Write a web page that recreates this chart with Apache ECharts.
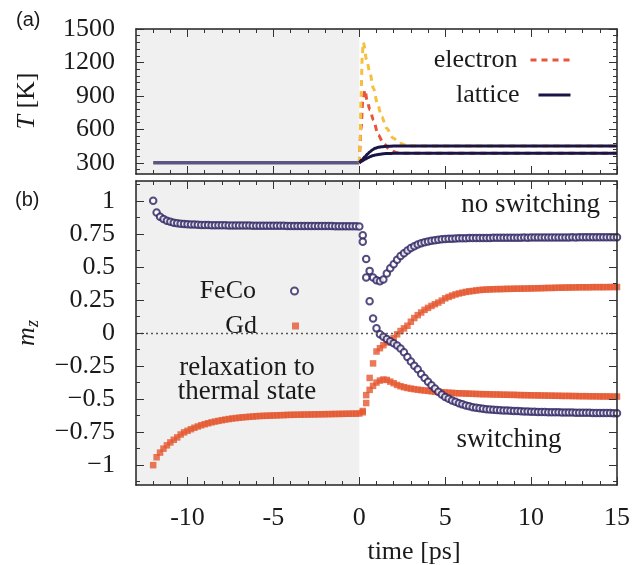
<!DOCTYPE html>
<html><head><meta charset="utf-8">
<script src="https://cdn.jsdelivr.net/npm/echarts@6/dist/echarts.min.js"></script>
<style>html,body{margin:0;padding:0;background:#fff}#c{width:643px;height:565px}</style>
</head><body><div id="c"></div>
<script>
// ---------- tick values ----------
const majorX = [-10, -5, 0, 5, 10, 15];
const minorX = [-12,-11,-9,-8,-7,-6,-4,-3,-2,-1,1,2,3,4,6,7,8,9,11,12,13,14];
const majorT = [300, 600, 900, 1200, 1500];
const minorT = [240,360,420,480,540,660,720,780,840,960,1020,1080,1140,1260,1320,1380,1440];
const majorM = [-1, -0.75, -0.5, -0.25, 0, 0.25, 0.5, 0.75, 1];
const minorM = [-1.125,-0.875,-0.625,-0.375,-0.125,0.125,0.375,0.625,0.875,1.125];

// ---------- panel (a): temperatures ----------
const preTimeT = [-12, 0];
const preTemp  = [300, 300];
const elecRedTime = [0, 0.1, 0.2, 0.33, 0.45, 0.62, 0.82, 1.1, 1.4, 1.79, 2.17, 2.6, 15];
const elecRedTemp = [300, 600, 850, 953, 860, 774, 684, 550, 475, 415, 391, 386, 385];
const elecYelTime = [0, 0.05, 0.1, 0.17, 0.23, 0.43, 0.62, 0.82, 1.05, 1.3, 1.59, 1.98, 2.36, 2.75, 3.2, 15];
const elecYelTemp = [300, 500, 900, 1250, 1380, 1222, 1103, 969, 834, 714, 610, 520, 475, 457, 451, 450];
const latUpTime = [0, 0.15, 0.33, 0.5, 0.62, 0.8, 0.91, 1.1, 1.3, 1.6, 2, 15];
const latUpTemp = [300, 325, 355, 382, 400, 420, 430, 439, 445, 449, 450, 450];
const latLoTime = [0, 0.15, 0.33, 0.5, 0.62, 0.8, 1.0, 1.2, 1.4, 1.7, 2, 15];
const latLoTemp = [300, 315, 332, 346, 355, 365, 373, 378, 382, 384, 385, 385];

// ---------- panel (b): magnetisation, sampled every 0.2 ps ----------
const preStart = -12, postStart = 0.2, step = 0.2;
const fecoPre = [1.000,0.912,0.880,0.862,0.850,0.841,0.835,0.830,0.827,0.824,0.822,
  0.821,0.820,0.819,0.818,0.818,0.817,0.816,0.816,0.815,0.815,
  0.815,0.814,0.814,0.814,0.813,0.813,0.813,0.813,0.812,0.812,
  0.812,0.812,0.812,0.811,0.811,0.811,0.811,0.811,0.810,0.810,
  0.810,0.810,0.810,0.810,0.810,0.809,0.809,0.809,0.809,0.809,
  0.809,0.809,0.808,0.808,0.808,0.808,0.807,0.807,0.807,0.806];
const gdPre = [-1.000,-0.940,-0.905,-0.875,-0.850,-0.828,-0.808,-0.790,-0.768,-0.752,-0.740,
  -0.728,-0.717,-0.707,-0.698,-0.690,-0.683,-0.676,-0.670,-0.665,-0.660,
  -0.655,-0.651,-0.647,-0.644,-0.641,-0.638,-0.636,-0.634,-0.632,-0.630,
  -0.628,-0.627,-0.626,-0.625,-0.624,-0.623,-0.622,-0.621,-0.620,-0.619,
  -0.619,-0.618,-0.618,-0.617,-0.617,-0.616,-0.616,-0.615,-0.615,-0.614,
  -0.614,-0.613,-0.613,-0.612,-0.612,-0.611,-0.611,-0.610,-0.610,-0.609];
const fecoNoSwitch = [0.74,0.56,0.47,0.42,0.40,0.392,0.405,0.45,0.49,0.52,
  0.555,0.583,0.603,0.625,0.643,0.657,0.669,0.679,0.686,0.693,
  0.698,0.702,0.706,0.709,0.711,0.713,0.714,0.715,0.716,0.717,
  0.717,0.718,0.718,0.718,0.719,0.719,0.719,0.719,0.720,0.720,
  0.720,0.720,0.721,0.720,0.721,0.721,0.721,0.722,0.721,0.722,
  0.722,0.722,0.722,0.723,0.722,0.723,0.723,0.723,0.723,0.723,
  0.723,0.724,0.723,0.724,0.724,0.724,0.724,0.724,0.725,0.724,
  0.725,0.724,0.725,0.725,0.725];
const fecoSwitch = [0.69,0.42,0.24,0.11,0.035,-0.01,-0.028,-0.045,-0.062,-0.078,
  -0.095,-0.118,-0.146,-0.182,-0.215,-0.247,-0.275,-0.31,-0.34,-0.368,
  -0.395,-0.42,-0.445,-0.466,-0.484,-0.498,-0.51,-0.521,-0.531,-0.54,
  -0.548,-0.555,-0.561,-0.566,-0.570,-0.573,-0.576,-0.578,-0.580,-0.582,
  -0.584,-0.586,-0.587,-0.589,-0.590,-0.591,-0.592,-0.593,-0.594,-0.595,
  -0.596,-0.597,-0.597,-0.598,-0.599,-0.599,-0.600,-0.600,-0.601,-0.601,
  -0.602,-0.602,-0.603,-0.603,-0.604,-0.604,-0.604,-0.605,-0.605,-0.605,
  -0.606,-0.606,-0.606,-0.607,-0.607];
const gdSwitch = [-0.59,-0.47,-0.34,-0.23,-0.14,-0.115,-0.092,-0.072,-0.055,-0.038,
  -0.01,0.015,0.035,0.055,0.085,0.113,0.135,0.155,0.175,0.19,
  0.205,0.218,0.23,0.245,0.262,0.273,0.283,0.292,0.299,0.305,
  0.311,0.315,0.318,0.322,0.325,0.327,0.329,0.330,0.331,0.332,
  0.332,0.333,0.334,0.334,0.335,0.335,0.336,0.336,0.337,0.337,
  0.338,0.339,0.339,0.340,0.341,0.341,0.342,0.343,0.343,0.344,
  0.344,0.345,0.345,0.346,0.346,0.346,0.346,0.347,0.347,0.347,
  0.347,0.347,0.348,0.348,0.348];
const gdNoSwitch = [-0.60,-0.53,-0.43,-0.40,-0.375,-0.36,-0.352,-0.355,-0.368,-0.38,
  -0.393,-0.403,-0.41,-0.416,-0.421,-0.425,-0.429,-0.432,-0.435,-0.438,
  -0.441,-0.444,-0.446,-0.448,-0.450,-0.452,-0.453,-0.455,-0.456,-0.457,
  -0.458,-0.459,-0.460,-0.461,-0.462,-0.463,-0.463,-0.464,-0.465,-0.465,
  -0.466,-0.467,-0.467,-0.468,-0.468,-0.469,-0.470,-0.470,-0.471,-0.471,
  -0.472,-0.472,-0.473,-0.473,-0.474,-0.474,-0.475,-0.475,-0.476,-0.476,
  -0.476,-0.477,-0.477,-0.478,-0.478,-0.478,-0.479,-0.479,-0.479,-0.480,
  -0.480,-0.480,-0.481,-0.481,-0.481];

// ---------- build ----------
const pairs = (ts, vs) => vs.map((v, i) => [ts[i], v]);
const grid = (start, vs) => vs.map((v, i) => [+(start + step * i).toFixed(2), v]);

const SERIF = 'Liberation Serif';
const INK = '#1a1a1a';
const NAVY = '#1b1446';
const ORANGE = '#e5572f';

function xAx(g, pos, vals, len, lab, line) {
  return {
    type: 'value', gridIndex: g, position: pos, min: -13, max: 15, z: 5,
    axisLine: { show: !!line, onZero: false, lineStyle: { color: '#222', width: 1.5 } },
    axisTick: { show: true, inside: true, length: len, customValues: vals, lineStyle: { color: '#333', width: 1 } },
    axisLabel: lab ? { show: true, customValues: majorX, margin: 20, color: INK, fontFamily: SERIF, fontSize: 26,
      formatter: v => String(v) } : { show: false },
    splitLine: { show: false }
  };
}
function yAx(g, pos, min, max, vals, len, labVals, fmt, line) {
  return {
    type: 'value', gridIndex: g, position: pos, min: min, max: max, z: 5,
    axisLine: { show: !!line, onZero: false, lineStyle: { color: '#222', width: 1.5 } },
    axisTick: { show: true, inside: true, length: len, customValues: vals, lineStyle: { color: '#333', width: 1 } },
    axisLabel: labVals ? { show: true, customValues: labVals, margin: 21, color: INK, fontFamily: SERIF, fontSize: 26,
      formatter: fmt } : { show: false },
    splitLine: { show: false }
  };
}
const fmtM = v => { let s = Math.abs(v) < 1e-9 ? '0' : String(+v.toFixed(2)); return s.replace('-', '\u2212'); };
const legText = (pad) => ({ fontFamily: SERIF, fontSize: 26, color: INK, lineHeight: 30, padding: pad });

const chart = echarts.init(document.getElementById('c'), null, { renderer: 'canvas' });
const option = {
  backgroundColor: '#fff',
  animation: false,
  grid: [
    { left: 136, right: 26, top: 29, height: 145, show: false },
    { left: 136, right: 26, top: 181, height: 304, show: false }
  ],
  xAxis: [
    xAx(0, 'bottom', majorX, 8, false, true),
    xAx(0, 'bottom', minorX, 4, false, false),
    xAx(0, 'top', majorX, 8, false, true),
    xAx(0, 'top', minorX, 4, false, false),
    xAx(1, 'bottom', majorX, 8, true, true),
    xAx(1, 'bottom', minorX, 4, false, false),
    xAx(1, 'top', majorX, 8, false, true),
    xAx(1, 'top', minorX, 4, false, false)
  ],
  yAxis: [
    yAx(0, 'left', 200, 1500, majorT, 8, majorT, v => String(v), true),
    yAx(0, 'left', 200, 1500, minorT, 4, null, null, false),
    yAx(0, 'right', 200, 1500, majorT, 8, null, null, true),
    yAx(0, 'right', 200, 1500, minorT, 4, null, null, false),
    yAx(1, 'left', -1.15, 1.15, majorM, 8, majorM, fmtM, true),
    yAx(1, 'left', -1.15, 1.15, minorM, 4, null, null, false),
    yAx(1, 'right', -1.15, 1.15, majorM, 8, null, null, true),
    yAx(1, 'right', -1.15, 1.15, minorM, 4, null, null, false)
  ],
  legend: [
    { data: ['electron'], right: 67, top: 40, align: 'right', itemWidth: 39, itemHeight: 14,
      itemStyle: { opacity: 0 }, lineStyle: { width: 3 }, textStyle: legText([0, 8, 0, 0]), selectedMode: false },
    { data: ['lattice'], right: 66, top: 75, align: 'right', itemWidth: 32, itemHeight: 14,
      itemStyle: { opacity: 0 }, lineStyle: { width: 3 }, textStyle: legText([0, 14, 0, 0]), selectedMode: false },
    { data: ['FeCo'], right: 339, top: 271, align: 'right', itemWidth: 7, itemHeight: 7,
      textStyle: legText([0, 30, 0, 0]), selectedMode: false },
    { data: ['Gd'], right: 339, top: 306, align: 'right', itemWidth: 7, itemHeight: 7,
      textStyle: legText([0, 30, 0, 0]), selectedMode: false }
  ],
  graphic: [
    { type: 'text', left: 16, top: 10, z: 10, style: { text: '(a)', font: '20px "Liberation Sans"', fill: INK } },
    { type: 'text', left: 15, top: 190, z: 10, style: { text: '(b)', font: '20px "Liberation Sans"', fill: INK } },
    { type: 'text', x: 27, y: 101, rotation: Math.PI / 2, z: 10,
      style: { text: '{i|T} [K]', align: 'center', verticalAlign: 'middle', font: '26px "Liberation Serif"', fill: INK,
        rich: { i: { fontStyle: 'italic', fontFamily: SERIF, fontSize: 26 } } } },
    { type: 'text', x: 27, y: 333, rotation: Math.PI / 2, z: 10,
      style: { text: '{i|m}{s|z}', align: 'center', verticalAlign: 'middle', font: '26px "Liberation Serif"', fill: INK,
        rich: { i: { fontStyle: 'italic', fontFamily: SERIF, fontSize: 26 },
                s: { fontStyle: 'italic', fontFamily: SERIF, fontSize: 18, padding: [12, 0, 0, 0] } } } },
    { type: 'text', x: 600, y: 205, z: 10, style: { text: 'no switching', align: 'right', verticalAlign: 'middle', font: '27px "Liberation Serif"', fill: INK } },
    { type: 'text', x: 509, y: 440, z: 10, style: { text: 'switching', align: 'center', verticalAlign: 'middle', font: '27px "Liberation Serif"', fill: INK } },
    { type: 'text', x: 247, y: 380, z: 10, style: { text: 'relaxation to\nthermal state', align: 'center', verticalAlign: 'middle', lineHeight: 24, font: '27px "Liberation Serif"', fill: INK } },
    { type: 'text', x: 414, y: 552, z: 10, style: { text: 'time [ps]', align: 'center', verticalAlign: 'middle', font: '26px "Liberation Serif"', fill: INK } }
  ],
  series: [
    // panel a background shading
    { type: 'line', name: 'bgA', xAxisIndex: 0, yAxisIndex: 0, data: [], z: 1, silent: true,
      markArea: { silent: true, itemStyle: { color: '#f0f0f0' }, data: [[{ xAxis: -13 }, { xAxis: 0 }]] } },
    { type: 'line', name: 'pre', xAxisIndex: 0, yAxisIndex: 0, data: pairs(preTimeT, preTemp), symbol: 'none', z: 3,
      lineStyle: { color: '#5b5584', width: 3.5 } },
    { type: 'line', name: 'electron', xAxisIndex: 0, yAxisIndex: 0, data: pairs(elecRedTime, elecRedTemp), symbol: 'none', z: 3,
      smooth: 0.3, smoothMonotone: 'x', color: '#e8553a', lineStyle: { color: '#e8553a', width: 3, type: [6, 5] } },
    { type: 'line', name: 'electron', xAxisIndex: 0, yAxisIndex: 0, data: pairs(elecYelTime, elecYelTemp), symbol: 'none', z: 3,
      smooth: 0.3, smoothMonotone: 'x', color: '#f5c040', lineStyle: { color: '#f5c040', width: 3, type: [6, 5] } },
    { type: 'line', name: 'lattice', xAxisIndex: 0, yAxisIndex: 0, data: pairs(latUpTime, latUpTemp), symbol: 'none', z: 4,
      smooth: 0.3, smoothMonotone: 'x', color: NAVY, lineStyle: { color: NAVY, width: 3 } },
    { type: 'line', name: 'lattice', xAxisIndex: 0, yAxisIndex: 0, data: pairs(latLoTime, latLoTemp), symbol: 'none', z: 4,
      smooth: 0.3, smoothMonotone: 'x', color: NAVY, lineStyle: { color: NAVY, width: 3 } },
    // panel b background shading + zero line
    { type: 'line', name: 'bgB', xAxisIndex: 4, yAxisIndex: 4, data: [], z: 1, silent: true,
      markArea: { silent: true, itemStyle: { color: '#f0f0f0' }, data: [[{ xAxis: -13 }, { xAxis: 0 }]] },
      markLine: { silent: true, symbol: 'none', label: { show: false },
        lineStyle: { color: '#555', width: 1.3, type: [2, 3] }, data: [{ yAxis: 0 }] } },
    { type: 'scatter', name: 'Gd', xAxisIndex: 4, yAxisIndex: 4, data: grid(preStart, gdPre), symbol: 'rect', symbolSize: 6.5, z: 3,
      itemStyle: { color: ORANGE } },
    { type: 'scatter', name: 'Gd', xAxisIndex: 4, yAxisIndex: 4, data: grid(postStart, gdSwitch), symbol: 'rect', symbolSize: 6.5, z: 3,
      itemStyle: { color: ORANGE } },
    { type: 'scatter', name: 'Gd', xAxisIndex: 4, yAxisIndex: 4, data: grid(postStart, gdNoSwitch), symbol: 'rect', symbolSize: 6.5, z: 3,
      itemStyle: { color: ORANGE } },
    { type: 'scatter', name: 'FeCo', xAxisIndex: 4, yAxisIndex: 4, data: grid(preStart, fecoPre), symbol: 'emptyCircle', symbolSize: 6.5, z: 4,
      itemStyle: { color: '#2b2060', borderWidth: 1.3 } },
    { type: 'scatter', name: 'FeCo', xAxisIndex: 4, yAxisIndex: 4, data: grid(postStart, fecoNoSwitch), symbol: 'emptyCircle', symbolSize: 6.5, z: 4,
      itemStyle: { color: '#2b2060', borderWidth: 1.3 } },
    { type: 'scatter', name: 'FeCo', xAxisIndex: 4, yAxisIndex: 4, data: grid(postStart, fecoSwitch), symbol: 'emptyCircle', symbolSize: 6.5, z: 4,
      itemStyle: { color: '#2b2060', borderWidth: 1.3 } }
  ]
};
chart.setOption(option);
</script>
</body></html>
